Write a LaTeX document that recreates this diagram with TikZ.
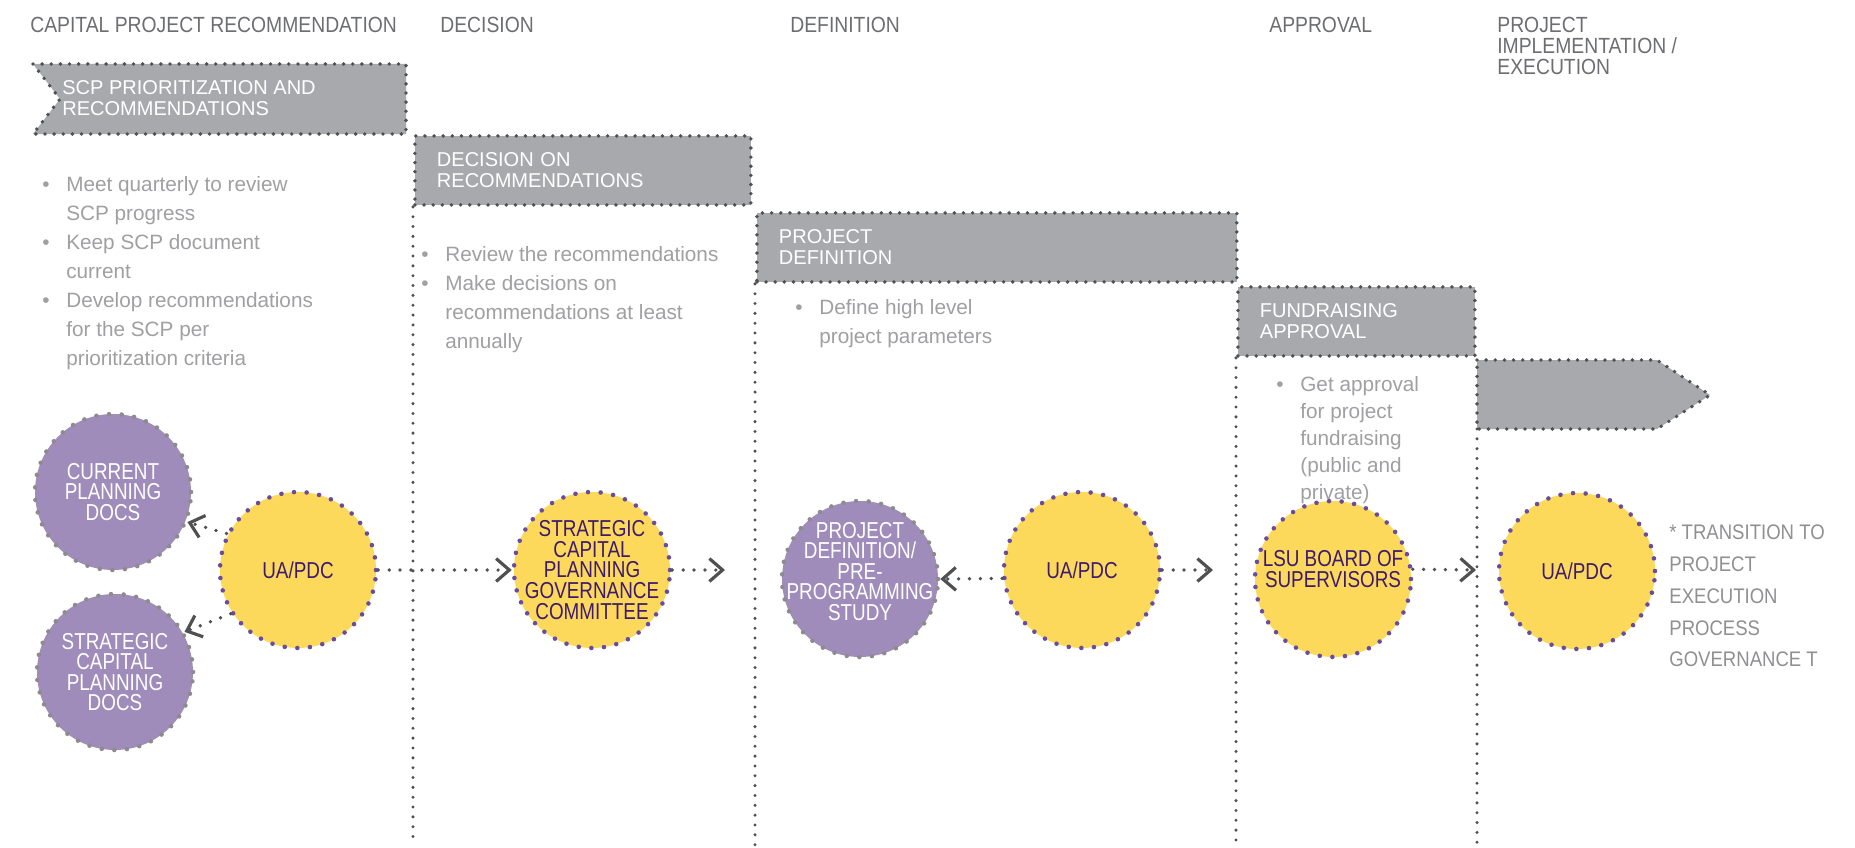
\documentclass[tikz,border=0pt]{standalone}
\usepackage{fontspec}
\setmainfont{Liberation Sans}
\newfontfamily\narrowsans{Liberation Sans}[FakeStretch=0.82]
\newfontfamily\semisans{Liberation Sans}[FakeStretch=0.88]
\usetikzlibrary{arrows.meta}
\definecolor{bandgray}{HTML}{A7A9AC}
\definecolor{dotgray}{HTML}{4F5052}
\definecolor{headgray}{HTML}{6D6E71}
\definecolor{notegray}{HTML}{A0A0A3}
\definecolor{lsupurple}{HTML}{9F8CBA}
\definecolor{lsugold}{HTML}{FCD95B}
\definecolor{deeppurple}{HTML}{3D1A6E}
\definecolor{dotpurple}{HTML}{6A4C9C}
\definecolor{ringgray}{HTML}{8C8C8E}
\newcommand{\headfont}{\semisans\fontsize{12.5}{12}\selectfont}
\newcommand{\bandfont}{\fontsize{11.4}{12}\selectfont}
\newcommand{\notefont}{\fontsize{11.8}{16.5}\selectfont}
\newcommand{\ringfont}{\narrowsans\fontsize{13.1}{11.7}\selectfont}
\newcommand{\tailfont}{\semisans\fontsize{12}{18.2}\selectfont}
\newcommand{\bpt}{\makebox[0.48cm][l]{\textbullet}}
\newcommand{\bcont}{\hspace*{0.48cm}}
\tikzset{
  dotedge/.style={draw=dotgray, line width=2.2pt, line cap=round, dash pattern=on 0pt off 5.2pt},
  band/.style={rectangle, fill=bandgray, dotedge, minimum height=1.38cm, text width=#1,
               inner xsep=0.44cm, inner ysep=0pt, align=left, anchor=north west,
               text=white, font=\bandfont},
  bandtext/.style={anchor=west, inner sep=0pt, align=left, text=white, font=\bandfont},
  ring/.style={circle, minimum size=3.12cm, inner sep=-0.8cm, align=center, line width=2.6pt,
               line cap=round, dash pattern=on 0pt off 7.2pt, font=\ringfont},
  goldring/.style={ring, fill=lsugold, draw=dotpurple, text=deeppurple},
  purplering/.style={ring, fill=lsupurple, draw=ringgray, text=white},
  conn/.style={draw=dotgray, line width=2.1pt, line cap=round, dash pattern=on 0pt off 6.2pt,
               -{Straight Barb[length=7.5pt, width=13pt, line width=1.8pt]}},
  lane/.style={draw=dotgray, line width=1.9pt, line cap=round, dash pattern=on 0pt off 5.6pt},
  phase/.style={anchor=north west, inner sep=0pt, align=left, text=headgray, font=\headfont},
  notes/.style={anchor=north west, inner sep=0pt, align=left, text=notegray, font=\notefont},
}
\begin{document}
\begin{tikzpicture}[x=0.02cm, y=-0.02cm]
  \path[fill=white, use as bounding box] (0,0) rectangle (1855,848);
  \coordinate (floor) at (0,845);

  % phase headings
  \node[phase] (h1) at (30,17) {CAPITAL PROJECT RECOMMENDATION};
  \node[phase] (h2) at (440,17) {DECISION};
  \node[phase] (h3) at (790,17) {DEFINITION};
  \node[phase] (h4) at (1269,17) {APPROVAL};
  \node[phase] (h5) at (1497,17) {PROJECT\\IMPLEMENTATION /\\EXECUTION};

  % banners
  \path[fill=bandgray, dotedge] (33,64) -- (406,64) -- (406,134) -- (33,134) -- (60,99) -- cycle;
  \node[bandtext] (b1) at (62,98) {SCP PRIORITIZATION AND\\RECOMMENDATIONS};
  \node[band=5.84cm] (b2) at (413,134) {DECISION ON\\RECOMMENDATIONS};
  \node[band=8.72cm] (b3) at (755,211) {PROJECT\\DEFINITION};
  \node[band=3.86cm] (b4) at (1236,285) {FUNDRAISING\\APPROVAL};
  \path[fill=bandgray, dotedge] (1477,360) -- (1657,360) -- (1710,395) -- (1657,429) -- (1477,429) -- cycle;
  \coordinate (b5) at (1477,429);

  % lanes
  \draw[lane] (b2.south west) -- (b2.south west |- floor);
  \draw[lane] (b3.south west) -- (b3.south west |- floor);
  \draw[lane] (b4.south west) -- (b4.south west |- floor);
  \draw[lane] (b5) -- (b5 |- floor);

  % circles
  \node[purplering] (cpd) at (113,492) {CURRENT\\PLANNING\\DOCS};
  \node[purplering] (scpd) at (115,672) {STRATEGIC\\CAPITAL\\PLANNING\\DOCS};
  \node[goldring] (ua1) at (298,570) {UA/PDC};
  \node[goldring] (scpgc) at (592,570) {STRATEGIC\\CAPITAL\\PLANNING\\GOVERNANCE\\COMMITTEE};
  \node[purplering] (pd) at (860,579) {PROJECT\\DEFINITION/\\PRE-\\PROGRAMMING\\STUDY\\[-2.7pt]\mbox{}};
  \node[goldring] (ua2) at (1082,570) {UA/PDC};
  \node[goldring] (lsu) at (1333,579) {LSU BOARD OF\\SUPERVISORS\\\mbox{}};
  \node[goldring] (ua3) at (1577,571) {UA/PDC};
  \node[phase, font=\tailfont, text=notegray!90!black] (tail) at (1669,524)
    {* TRANSITION TO\\PROJECT\\EXECUTION\\PROCESS\\GOVERNANCE T};

  % notes
  \node[notes] (n1) at (42,176) {\bpt Meet quarterly to review\\\bcont SCP progress\\
    \bpt Keep SCP document\\\bcont current\\\bpt Develop recommendations\\
    \bcont for the SCP per\\\bcont prioritization criteria};
  \node[notes] (n2) at (421,246) {\bpt Review the recommendations\\\bpt Make decisions on\\
    \bcont recommendations at least\\\bcont annually};
  \node[notes] (n3) at (795,299) {\bpt Define high level\\\bcont project parameters};
  \node[notes, font=\fontsize{11.8}{15.4}\selectfont] (n4) at (1276,376) {\bpt Get approval\\
    \bcont for project\\\bcont fundraising\\\bcont (public and\\\bcont private)};

  % connectors
  \coordinate (gap1) at (725,570);
  \coordinate (gap2) at (1213,570);
  \coordinate (gap3) at (1476,570);
  \draw[conn] (ua1.153) -- (cpd.-22);
  \draw[conn] (ua1.213) -- (scpd.30);
  \draw[conn] (ua1) -- (scpgc);
  \draw[conn] (scpgc) -- (gap1);
  \draw[conn] (ua2.186) -- (pd.east);
  \draw[conn] (ua2) -- (gap2);
  \draw[conn] (lsu.7) -- (gap3);
\end{tikzpicture}
\end{document}
